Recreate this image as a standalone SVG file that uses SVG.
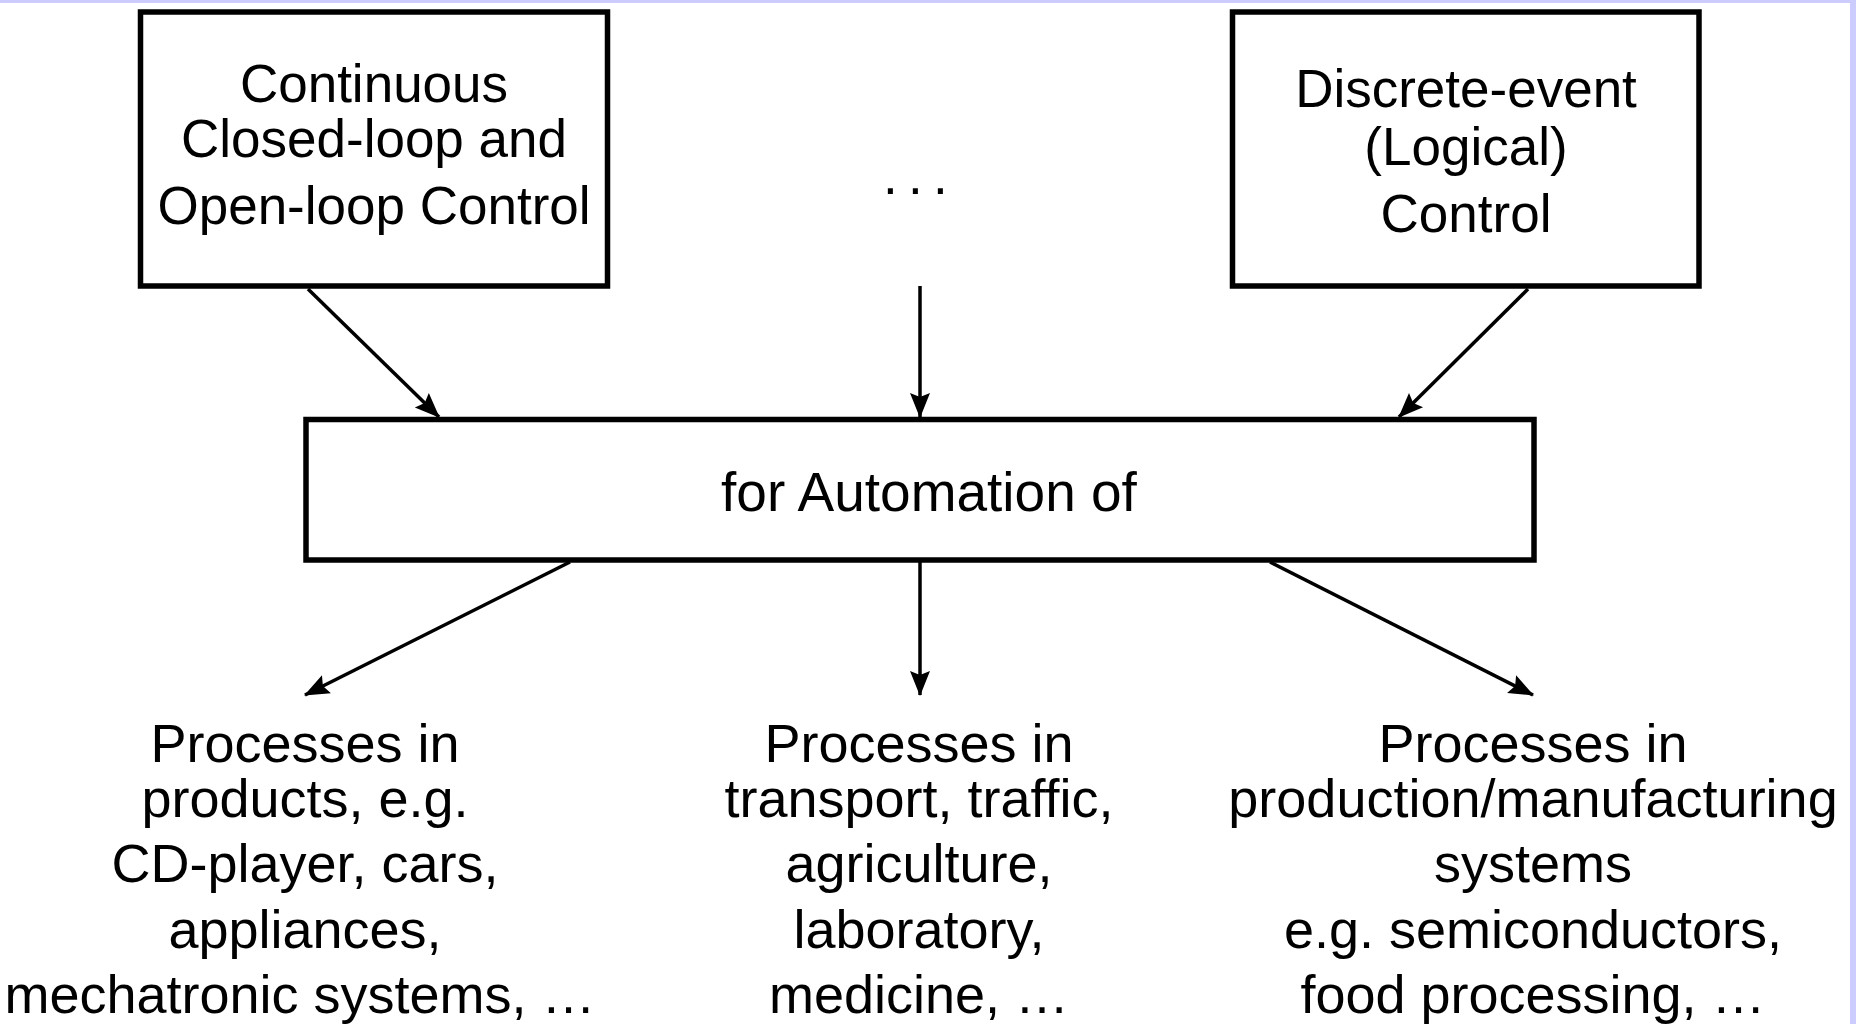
<svg xmlns="http://www.w3.org/2000/svg" width="1856" height="1024" viewBox="0 0 1856 1024">
  <style>
    .box { fill: #ffffff; stroke: #000000; stroke-width: 5.5; }
    .t { font-family: "Liberation Sans", Arial, sans-serif; font-size: 53px; fill: #000000; text-anchor: middle; }
    .b { font-size: 54px; }
    .m { font-size: 55px; }
    .conn { stroke: #000000; stroke-width: 3.5; fill: none; marker-end: url(#arr); }
  </style>
  <defs>
    <marker id="arr" viewBox="-28 -12 30 24" refX="0" refY="0" markerWidth="30" markerHeight="24" markerUnits="userSpaceOnUse" orient="auto">
      <path d="M1,0 L-24,-10 L-20,0 L-24,10 Z" fill="#000000"/>
    </marker>
  </defs>
  <rect x="0" y="0" width="1856" height="1024" fill="#ffffff"/>
  <rect x="0" y="0" width="1856" height="3" fill="#ccccff"/>
  <rect x="1850" y="0" width="6" height="1024" fill="#ccccff"/>

  <g id="node-continuous">
    <rect class="box" x="140.5" y="12" width="467" height="274"/>
    <text class="t" x="374" y="102">Continuous</text>
    <text class="t" x="374" y="157">Closed-loop and</text>
    <text class="t" x="374" y="224">Open-loop Control</text>
  </g>

  <g id="node-dots">
    <text class="t" style="text-anchor:start" x="883 908 933" y="194">...</text>
  </g>

  <g id="node-discrete">
    <rect class="box" x="1232.5" y="12" width="466.5" height="274"/>
    <text class="t" x="1466" y="107">Discrete-event</text>
    <text class="t" x="1466" y="165">(Logical)</text>
    <text class="t" x="1466" y="232">Control</text>
  </g>

  <g id="node-automation">
    <rect class="box" x="306" y="419.5" width="1228" height="140.5"/>
    <text class="t m" x="929" y="511">for Automation of</text>
  </g>

  <g id="node-products">
    <text class="t b" x="305" y="762">Processes in</text>
    <text class="t b" x="305" y="817">products, e.g.</text>
    <text class="t b" x="305" y="882">CD-player, cars,</text>
    <text class="t b" x="305" y="948">appliances,</text>
    <text class="t b" x="300" y="1013">mechatronic systems, …</text>
  </g>

  <g id="node-transport">
    <text class="t b" x="919" y="762">Processes in</text>
    <text class="t b" x="919" y="817">transport, traffic,</text>
    <text class="t b" x="919" y="882">agriculture,</text>
    <text class="t b" x="919" y="948">laboratory,</text>
    <text class="t b" x="919" y="1013">medicine, …</text>
  </g>

  <g id="node-production">
    <text class="t b" x="1533" y="762">Processes in</text>
    <text class="t b" x="1533" y="817">production/manufacturing</text>
    <text class="t b" x="1533" y="882">systems</text>
    <text class="t b" x="1533" y="948">e.g. semiconductors,</text>
    <text class="t b" x="1533" y="1013">food processing, …</text>
  </g>

  <g id="connectors">
    <path class="conn" d="M308,289 L439,417"/>
    <path class="conn" d="M920,286 L920,417"/>
    <path class="conn" d="M1528,289 L1399,417"/>
    <path class="conn" d="M570,562 L305,695"/>
    <path class="conn" d="M920,562 L920,695"/>
    <path class="conn" d="M1270,562 L1533,695"/>
  </g>
</svg>
